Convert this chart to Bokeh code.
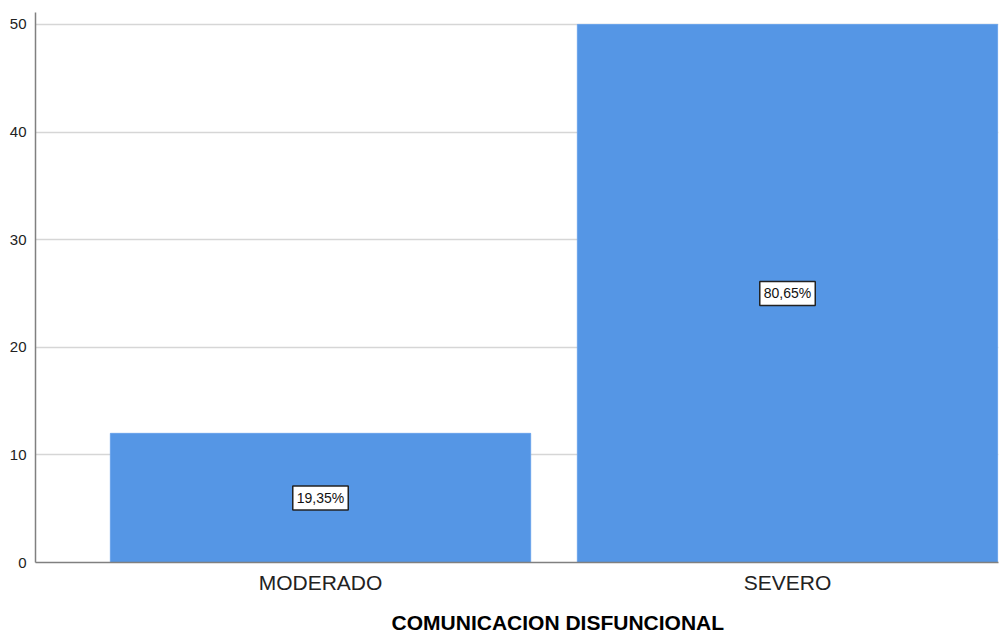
from bokeh.plotting import figure
from bokeh.models import Range1d, FixedTicker, ColumnDataSource
from bokeh.core.properties import value
from bokeh.embed import file_html
from bokeh.resources import INLINE

categories = ["MODERADO", "SEVERO"]
counts = [12, 50]
percent_labels = ["19,35%", "80,65%"]
y_ticks = [0, 10, 20, 30, 40, 50]
x_title = "COMUNICACION DISFUNCIONAL"

xs = list(range(len(categories)))
src = ColumnDataSource(dict(
    x=xs,
    top=counts,
    mid=[c / 2 for c in counts],
    lab=percent_labels,
))

FONT = "Liberation Sans"

p = figure(width=1000, height=636, output_backend="svg", toolbar_location=None,
           x_range=Range1d(-0.6103, 1.4518), y_range=Range1d(0, 51.11),
           min_border_left=35, min_border_right=2, min_border_top=12, min_border_bottom=73)
p.outline_line_color = None
p.background_fill_color = "white"
p.border_fill_color = "white"

p.vbar(x="x", top="top", width=0.9, bottom=0, source=src,
       fill_color="#5596e5", line_color="#6aa3ea", line_width=1)

p.text(x="x", y="mid", text="lab", source=src,
       text_align="center", text_baseline="middle",
       text_font=value(FONT), text_font_size="14px", text_color="#111111",
       background_fill_color="white", border_line_color="#222222",
       border_line_width=1.5, padding=4)

# grid
p.xgrid.grid_line_color = None
p.ygrid.ticker = FixedTicker(ticks=y_ticks)
p.ygrid.grid_line_color = "#d6d6d6"
p.ygrid.grid_line_width = 1.5

# y axis
p.yaxis.ticker = FixedTicker(ticks=y_ticks)
p.yaxis.major_tick_line_color = None
p.yaxis.minor_tick_line_color = None
p.yaxis.axis_line_color = "#808080"
p.yaxis.axis_line_width = 1.5
p.yaxis.major_label_text_font = FONT
p.yaxis.major_label_text_font_size = "15px"
p.yaxis.major_label_text_color = "#222222"
p.yaxis.major_label_standoff = 3

# x axis
p.xaxis.ticker = FixedTicker(ticks=xs)
p.xaxis.major_label_overrides = {i: c for i, c in enumerate(categories)}
p.xaxis.major_tick_line_color = None
p.xaxis.minor_tick_line_color = None
p.xaxis.axis_line_color = "#808080"
p.xaxis.axis_line_width = 1.5
p.xaxis.major_label_text_font = FONT
p.xaxis.major_label_text_font_size = "21px"
p.xaxis.major_label_text_color = "#222222"
p.xaxis.major_label_standoff = 2
# leading no-break spaces push the centred title to the right, as in the original
p.xaxis.axis_label = "\u00a0" * 14 + x_title
p.xaxis.axis_label_text_font = FONT
p.xaxis.axis_label_text_font_style = "bold"
p.xaxis.axis_label_text_font_size = "21px"
p.xaxis.axis_label_text_color = "#000000"
p.xaxis.axis_label_standoff = 14

open("out.html", "w").write(file_html(p, INLINE))
